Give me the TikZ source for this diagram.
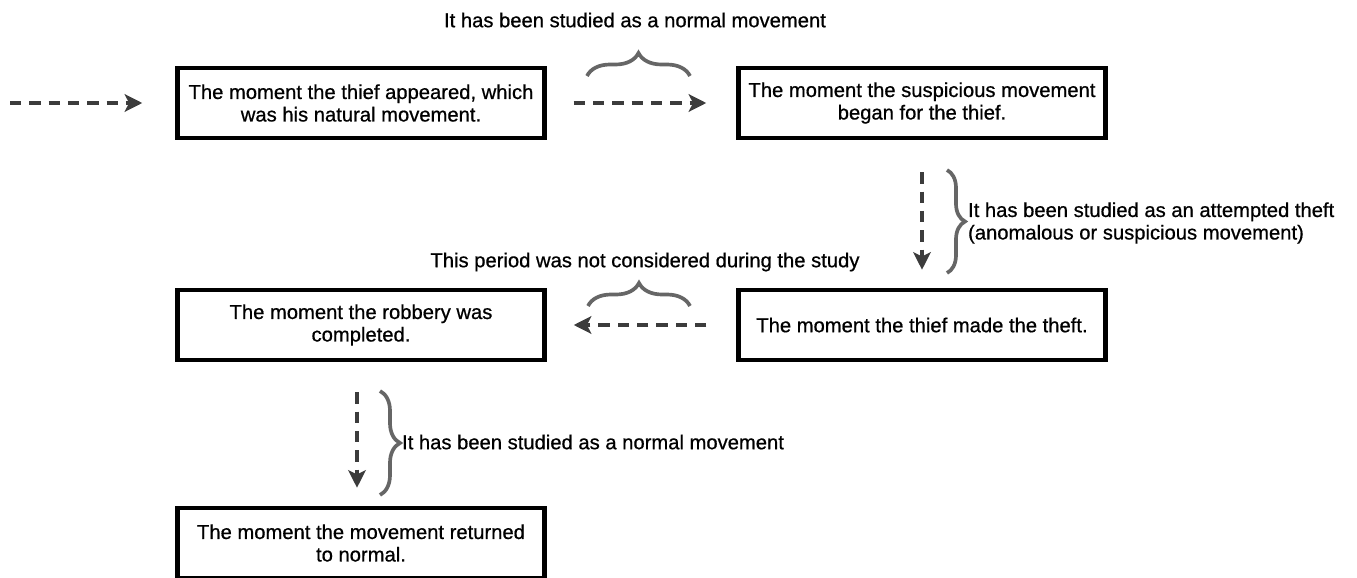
\documentclass[tikz,border=0pt]{standalone}
\usepackage{fontspec}
\setmainfont{Liberation Sans}
\newfontfamily\stepfont[FakeBold=0.7]{Liberation Sans}
\usetikzlibrary{arrows.meta,decorations.pathreplacing}
\definecolor{flowgray}{HTML}{3C3C3C}
\definecolor{bracegray}{HTML}{666666}
\tikzset{%
  stepbox/.style={draw=black,line width=2.6pt,minimum width=7.34cm,minimum height=1.4cm,align=center,inner sep=2pt},
  dflow/.style={draw=flowgray,line width=2.1pt,dash pattern=on 6.5pt off 4.5pt,-{Stealth[length=10pt,width=10pt,inset=2.5pt]}},
  cbrace/.style={draw=bracegray,line width=2.1pt,decorate,decoration={brace,amplitude=#1}},
  note/.style={inner sep=1pt}
}

\begin{document}
\begin{tikzpicture}[x=0.02cm,y=-0.02cm,every node/.style={font=\stepfont\fontsize{11.5}{12.8}\selectfont}]
    \useasboundingbox (0,0) rectangle (1357,578);
    % steps
    \node[stepbox] (appear)  at (361,103) {The moment the thief appeared, which\\was his natural movement.};
    \node[stepbox] (suspect) at (922,103) {The moment the suspicious movement\\began for the thief.};
    \node[stepbox] (theft)   at (922,325) {The moment the thief made the theft.};
    \node[stepbox] (robbery) at (361,325) {The moment the robbery was\\completed.};
    \node[stepbox] (normal)  at (361,543) {The moment the movement returned\\to normal.};
    \coordinate (start) at (10,103);
    % flow
    \draw[dflow,shorten >=0.66cm] (start) -- (appear);
    \draw[dflow,shorten <=0.54cm,shorten >=0.6cm] (appear) -- (suspect);
    \draw[dflow,shorten <=0.64cm,shorten >=0.36cm] (suspect) -- (theft);
    \draw[dflow,shorten <=0.6cm,shorten >=0.54cm] (theft) -- (robbery);
    \draw[dflow,shorten <=0.6cm,shorten >=0.36cm] ([xshift=-0.08cm]robbery.south) -- ([xshift=-0.08cm]normal.north);
    % braces
    \draw[cbrace=0.46cm] (587,76) -- (690,76);
    \node[note] (n1) at (635,20) {It has been studied as a normal movement};
    \draw[cbrace=0.36cm] (947,170) -- (947,273);
    \node[note,anchor=west,align=left] (n2) at (966,223) {It has been studied as an attempted theft\\(anomalous or suspicious movement)};
    \draw[cbrace=0.46cm] (588,306) -- (690,306);
    \node[note] (n3) at (645,262) {This period was not considered during the study};
    \draw[cbrace=0.4cm] (380,391) -- (380,495);
    \node[note,anchor=west] (n4) at (400,442) {It has been studied as a normal movement};
\end{tikzpicture}
\end{document}
